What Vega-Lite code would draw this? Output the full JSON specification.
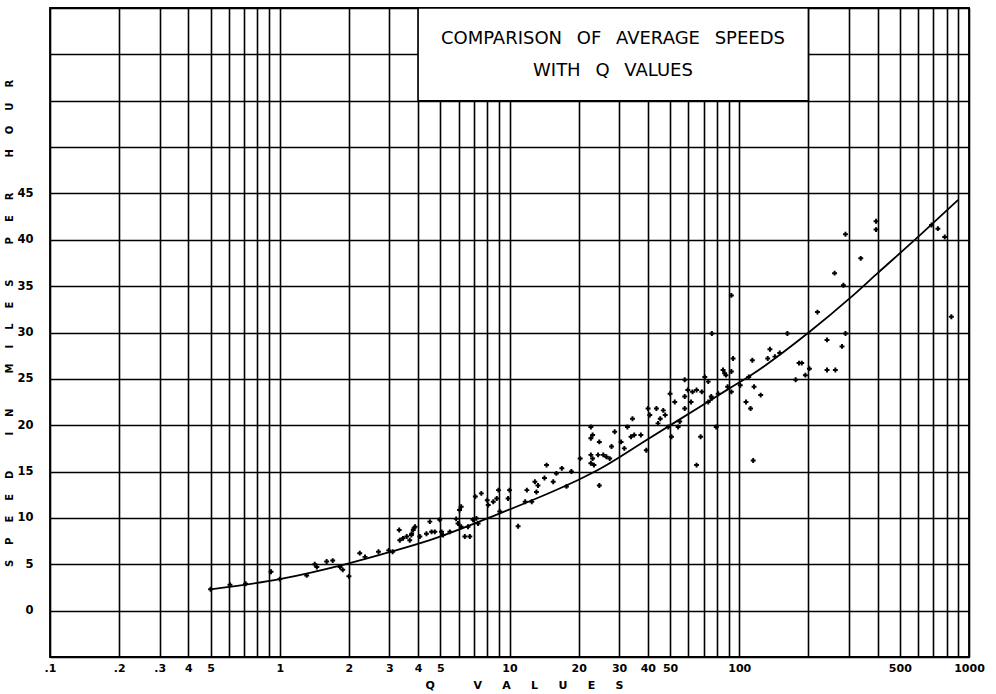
{
  "$schema": "https://vega.github.io/schema/vega-lite/v6.json",
  "width": 919,
  "height": 649,
  "autosize": "none",
  "padding": {"left": 50, "top": 8, "right": 27, "bottom": 37},
  "background": "white",
  "config": {
    "view": {"stroke": "black", "strokeWidth": 1.8},
    "font": "DejaVu Sans"
  },
  "datasets": {
    "points": [
      {"q":0.5,"v":2.3},{"q":0.607,"v":2.8},{"q":0.71,"v":2.9},{"q":0.916,"v":4.2},{"q":1.0,"v":3.4},
      {"q":1.31,"v":3.8},{"q":1.42,"v":5.0},{"q":1.45,"v":4.7},{"q":1.6,"v":5.3},{"q":1.7,"v":5.4},
      {"q":1.83,"v":4.7},{"q":1.88,"v":4.4},{"q":2.0,"v":3.7},{"q":2.23,"v":6.2},{"q":2.35,"v":5.8},
      {"q":2.69,"v":6.35},{"q":2.98,"v":6.5},{"q":3.1,"v":6.35},{"q":3.31,"v":8.7},{"q":3.33,"v":7.6},
      {"q":3.44,"v":7.8},{"q":3.68,"v":7.6},{"q":3.75,"v":8.3},{"q":3.84,"v":8.9},{"q":4.07,"v":8.0},
      {"q":4.35,"v":8.3},{"q":4.5,"v":9.6},{"q":3.57,"v":8.0},{"q":3.81,"v":8.7},{"q":3.88,"v":9.05},
      {"q":3.74,"v":8.15},{"q":4.58,"v":8.5},{"q":4.73,"v":8.5},{"q":4.97,"v":9.8},{"q":5.06,"v":8.5},
      {"q":5.14,"v":8.15},{"q":5.5,"v":8.5},{"q":5.86,"v":9.9},{"q":6.06,"v":10.85},{"q":6.16,"v":11.2},
      {"q":5.97,"v":9.4},{"q":6.16,"v":9.05},{"q":6.39,"v":8.0},{"q":6.72,"v":8.0},{"q":6.6,"v":9.05},
      {"q":6.94,"v":9.8},{"q":7.18,"v":9.95},{"q":7.1,"v":12.3},{"q":7.54,"v":12.65},{"q":7.3,"v":9.4},
      {"q":8.0,"v":11.9},{"q":8.08,"v":11.4},{"q":8.5,"v":11.75},{"q":8.8,"v":12.1},{"q":8.95,"v":13.0},
      {"q":9.07,"v":10.7},{"q":10.0,"v":13.0},{"q":9.86,"v":12.1},{"q":10.9,"v":9.1},{"q":11.9,"v":13.0},
      {"q":11.7,"v":11.75},{"q":12.5,"v":11.75},{"q":12.9,"v":13.9},{"q":13.3,"v":13.5},{"q":14.2,"v":14.3},
      {"q":14.5,"v":15.7},{"q":15.5,"v":13.9},{"q":16.0,"v":14.8},{"q":16.9,"v":15.35},{"q":17.7,"v":13.4},
      {"q":18.6,"v":15.0},{"q":13.1,"v":12.8},{"q":20.3,"v":16.4},{"q":22.6,"v":19.8},{"q":22.6,"v":18.6},
      {"q":23.0,"v":18.95},{"q":24.6,"v":18.2},{"q":24.6,"v":13.5},{"q":22.6,"v":16.8},{"q":23.0,"v":16.4},
      {"q":22.6,"v":15.9},{"q":24.3,"v":16.8},{"q":25.6,"v":16.8},{"q":26.4,"v":16.6},{"q":27.3,"v":16.4},
      {"q":23.3,"v":15.7},{"q":27.8,"v":17.7},{"q":28.7,"v":19.3},{"q":30.6,"v":18.2},{"q":31.6,"v":17.5},
      {"q":32.6,"v":19.8},{"q":33.8,"v":18.75},{"q":34.3,"v":20.7},{"q":34.9,"v":18.95},{"q":37.3,"v":18.95},
      {"q":39.4,"v":17.3},{"q":40.1,"v":21.8},{"q":40.8,"v":21.1},{"q":43.6,"v":21.8},{"q":44.3,"v":20.2},
      {"q":45.3,"v":20.7},{"q":46.7,"v":21.6},{"q":47.6,"v":21.1},{"q":50.0,"v":23.4},{"q":49.1,"v":19.8},
      {"q":50.7,"v":18.75},{"q":52.4,"v":22.5},{"q":54.2,"v":19.8},{"q":55.1,"v":20.4},{"q":57.9,"v":23.1},
      {"q":57.9,"v":24.9},{"q":57.9,"v":21.8},{"q":59.7,"v":23.8},{"q":61.7,"v":22.5},{"q":62.6,"v":23.6},
      {"q":65.2,"v":23.8},{"q":65.2,"v":15.7},{"q":67.9,"v":18.75},{"q":68.7,"v":23.6},{"q":70.8,"v":25.2},
      {"q":73.3,"v":24.7},{"q":76,"v":29.9},{"q":79.4,"v":19.8},{"q":85,"v":25.95},{"q":86.4,"v":25.6},
      {"q":75.5,"v":23.1},{"q":73.3,"v":22.5},{"q":76,"v":22.9},{"q":81,"v":23.4},{"q":87.5,"v":25.4},
      {"q":92.4,"v":25.8},{"q":92.4,"v":34.0},{"q":94,"v":27.2},{"q":92.4,"v":23.6},{"q":89,"v":24.15},
      {"q":101,"v":24.3},{"q":107,"v":22.5},{"q":112,"v":21.8},{"q":110,"v":25.2},{"q":114,"v":27.0},
      {"q":116,"v":24.15},{"q":115,"v":16.2},{"q":124,"v":23.25},{"q":136,"v":28.2},{"q":133,"v":27.2},
      {"q":143,"v":27.4},{"q":150,"v":27.8},{"q":162,"v":29.9},{"q":176,"v":24.9},{"q":182,"v":26.7},
      {"q":187,"v":26.7},{"q":194,"v":25.4},{"q":202,"v":26.1},{"q":219,"v":32.2},{"q":241,"v":29.2},
      {"q":241,"v":25.95},{"q":262,"v":25.95},{"q":280,"v":28.5},{"q":290,"v":29.9},{"q":260,"v":36.4},
      {"q":284,"v":35.1},{"q":290,"v":40.6},{"q":394,"v":42.0},{"q":394,"v":41.1},{"q":338,"v":38.0},
      {"q":687,"v":41.6},{"q":732,"v":41.2},{"q":784,"v":40.3},{"q":838,"v":31.7}
    ],
    "curve": [
      {"q":0.5,"v":2.3},{"q":1,"v":3.4},{"q":2,"v":5.1},{"q":3,"v":6.3},{"q":4.5,"v":7.6},
      {"q":9.1,"v":10.5},{"q":16.6,"v":13.2},{"q":20.3,"v":14.2},{"q":24.8,"v":15.3},{"q":39.5,"v":18.4},
      {"q":67.5,"v":22.0},{"q":91,"v":24.0},{"q":111,"v":25.3},{"q":203,"v":30.1},{"q":303,"v":33.7},
      {"q":396,"v":36.3},{"q":612,"v":40.5},{"q":897,"v":44.3}
    ]
  },
  "layer": [
    {
      "data": {"name": "points"},
      "mark": {"type": "point", "shape": "cross", "filled": true, "color": "black", "size": 24, "opacity": 1},
      "encoding": {
        "x": {
          "field": "q", "type": "quantitative",
          "scale": {"type": "log", "domain": [0.1, 1000], "nice": false},
          "axis": {
            "title": "Q\u2003\u2003\u2003\u2002V\u2003\u2002 A\u2003\u2002 L\u2003\u2002 U\u2003\u2002 E\u2003\u2002 S",
            "values": [0.1,0.2,0.3,0.4,0.5,0.6,0.7,0.8,0.9,1,2,3,4,5,6,7,8,9,10,20,30,40,50,60,70,80,90,100,200,300,400,500,600,700,800,900,1000],
            "labelExpr": "['.1','.2','.3','4','5','1','2','3','4','5','10','20','30','40','50','100','500','1000'][indexof([0.1,0.2,0.3,0.4,0.5,1,2,3,4,5,10,20,30,40,50,100,500,1000], datum.value)] || ''",
            "grid": true, "gridColor": "black", "gridWidth": 1.6, "gridOpacity": 1,
            "ticks": false, "domain": false,
            "labelFont": "DejaVu Sans", "labelFontWeight": "bold", "labelFontSize": 11, "labelColor": "black",
            "labelPadding": 5, "labelOverlap": false, "labelFlush": false,
            "titleFont": "DejaVu Sans", "titleFontWeight": "bold", "titleFontSize": 11, "titleColor": "black",
            "titleX": 474, "titleY": 28, "titleBaseline": "middle", "titleAlign": "center"
          }
        },
        "y": {
          "field": "v", "type": "quantitative",
          "scale": {"domain": [-5, 65], "nice": false, "zero": false},
          "axis": {
            "title": "S\u2003\u2002P\u2003\u2002E\u2003\u2002E\u2003\u2002D\u2003\u2003\u2003\u2002I\u2003\u2002N\u2003\u2003\u2003\u2002M\u2003\u2002I\u2003\u2002L\u2003\u2002E\u2003\u2002S\u2003\u2003\u2003\u2002P\u2003\u2002E\u2003\u2002R\u2003\u2003\u2003\u2002H\u2003\u2002O\u2003\u2002U\u2003\u2002R",
            "values": [-5,0,5,10,15,20,25,30,35,40,45,50,55,60,65],
            "labelExpr": "datum.value >= 0 && datum.value <= 45 ? datum.value : ''",
            "grid": true, "gridColor": "black", "gridWidth": 1.6, "gridOpacity": 1,
            "ticks": false, "domain": false,
            "labelFont": "DejaVu Sans", "labelFontWeight": "bold", "labelFontSize": 11.5, "labelColor": "black",
            "labelPadding": 17, "labelOverlap": false, "labelFlush": false,
            "titleFont": "DejaVu Sans", "titleFontWeight": "bold", "titleFontSize": 10, "titleColor": "black",
            "titleX": -41, "titleY": 315, "titleAngle": -90, "titleBaseline": "middle", "titleAlign": "center"
          }
        }
      }
    },
    {
      "data": {"name": "curve"},
      "mark": {"type": "line", "color": "black", "strokeWidth": 1.8, "interpolate": "monotone"},
      "encoding": {
        "x": {"field": "q", "type": "quantitative"},
        "y": {"field": "v", "type": "quantitative"}
      }
    },
    {
      "data": {"values": [{}]},
      "mark": {"type": "rect", "fill": "white", "stroke": "black", "strokeWidth": 1.6},
      "encoding": {
        "x": {"datum": 4, "type": "quantitative"},
        "x2": {"datum": 200},
        "y": {"datum": 55, "type": "quantitative"},
        "y2": {"datum": 65}
      }
    },
    {
      "data": {"values": [{"t": "COMPARISON\u2002 OF\u2002 AVERAGE\u2002 SPEEDS"}]},
      "mark": {"type": "text", "font": "DejaVu Sans", "fontSize": 18, "color": "black", "align": "center", "baseline": "middle"},
      "encoding": {
        "x": {"datum": 28.2, "type": "quantitative"},
        "y": {"datum": 61.66, "type": "quantitative"},
        "text": {"field": "t"}
      }
    },
    {
      "data": {"values": [{"t": "WITH\u2002 Q\u2002 VALUES"}]},
      "mark": {"type": "text", "font": "DejaVu Sans", "fontSize": 18, "color": "black", "align": "center", "baseline": "middle"},
      "encoding": {
        "x": {"datum": 28.2, "type": "quantitative"},
        "y": {"datum": 58.2, "type": "quantitative"},
        "text": {"field": "t"}
      }
    }
  ]
}
